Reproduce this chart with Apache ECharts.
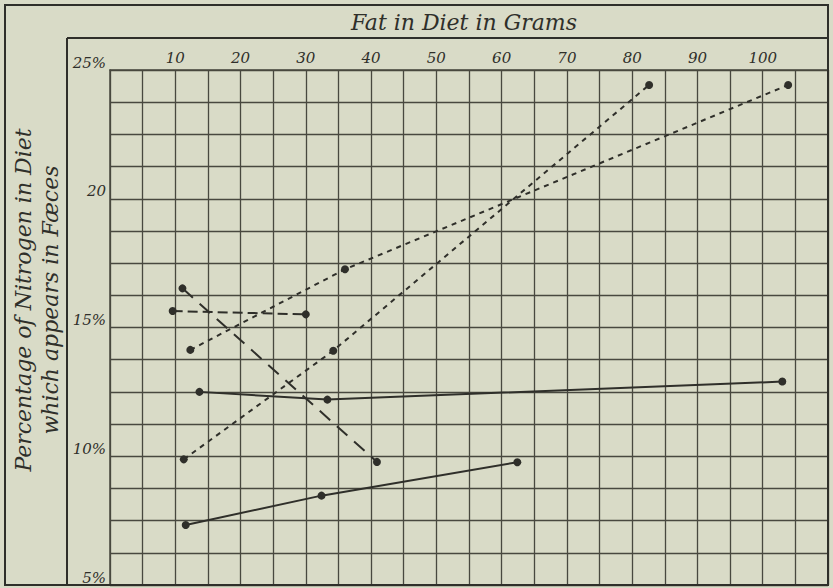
<!DOCTYPE html>
<html>
<head>
<meta charset="utf-8">
<script src="https://cdn.jsdelivr.net/npm/echarts@6/dist/echarts.min.js"></script>
<style>
html,body{margin:0;padding:0;background:#d9dbc7;}
#c{width:833px;height:588px;}
</style>
</head>
<body>
<div id="c"></div>
<script>
// ---- data ----
const xTickLabels = [10, 20, 30, 40, 50, 60, 70, 80, 90, 100];
const yTickValues = [5, 10, 15, 20, 25];
const yTickLabels = ['5%', '10%', '15%', '20', '25%'];

const solidA = [[13.7, 12.5], [33.3, 12.2], [103.0, 12.9]];
const solidB = [[11.6, 7.33], [32.4, 8.47], [62.4, 9.77]];
const longDashC = [[11.1, 16.52], [40.9, 9.78]];
const midDashD = [[9.6, 15.64], [30.0, 15.51]];
const shortDashE = [[12.3, 14.13], [36.0, 17.26], [103.9, 24.42]];
const shortDashF = [[11.3, 9.88], [34.2, 14.10], [82.6, 24.42]];

const titleText = 'Fat in Diet in Grams';
const yTitle1 = 'Percentage of Nitrogen in Diet';
const yTitle2 = 'which appears in Fæces';

// ---- styles ----
const ink = '#2f2f2a';
const gridInk = '#48483f';
const font = 'DejaVu Serif';

function mk(data, type) {
  return {
    type: 'line', data: data, symbol: 'circle', symbolSize: 8,
    itemStyle: {color: ink},
    lineStyle: {color: ink, width: 2, type: type},
    silent: true, animation: false, z: 5
  };
}

const chart = echarts.init(document.getElementById('c'), null, {renderer: 'svg'});
chart.setOption({
  backgroundColor: '#d9dbc7',
  animation: false,
  grid: {left: 110, top: 70, right: 5, bottom: 3},
  xAxis: {
    type: 'value', position: 'top', min: 0, max: 110, interval: 5,
    axisLine: {show: true, lineStyle: {color: gridInk, width: 1.5}},
    axisTick: {show: false},
    splitLine: {show: true, lineStyle: {color: gridInk, width: 1.3}},
    axisLabel: {
      margin: 5, fontFamily: font, fontStyle: 'italic', fontSize: 15, color: ink,
      showMinLabel: true, showMaxLabel: true,
      formatter: v => xTickLabels.indexOf(v) >= 0 ? String(v) : ''
    }
  },
  yAxis: {
    type: 'value', min: 5, max: 25, interval: 1.25,
    axisLine: {show: true, lineStyle: {color: gridInk, width: 1.5}},
    axisTick: {show: false},
    splitLine: {show: true, lineStyle: {color: gridInk, width: 1.3}},
    axisLabel: {
      margin: 4, fontFamily: font, fontStyle: 'italic', fontSize: 15, color: ink,
      verticalAlign: 'bottom', showMinLabel: true, showMaxLabel: true,
      formatter: v => { const i = yTickValues.indexOf(v); return i >= 0 ? yTickLabels[i] : ''; }
    }
  },
  series: [
    mk(solidA, 'solid'),
    mk(solidB, 'solid'),
    mk(longDashC, [14, 9]),
    mk(midDashD, [10, 5]),
    mk(shortDashE, [5, 5]),
    mk(shortDashF, [5, 5])
  ],
  graphic: [
    {type: 'rect', shape: {x: 5, y: 5, width: 823, height: 580},
     style: {fill: 'none', stroke: ink, lineWidth: 2}, z: 10, silent: true},
    {type: 'line', shape: {x1: 67, y1: 38, x2: 828, y2: 38},
     style: {stroke: ink, lineWidth: 2}, z: 10, silent: true},
    {type: 'line', shape: {x1: 67, y1: 38, x2: 67, y2: 585},
     style: {stroke: ink, lineWidth: 2}, z: 10, silent: true},
    {type: 'text', x: 464, y: 22, z: 10, silent: true,
     style: {text: titleText, font: 'italic 22px "DejaVu Serif"', fill: ink,
             textAlign: 'center', textVerticalAlign: 'middle'}},
    {type: 'text', x: 23, y: 300, rotation: Math.PI / 2, z: 10, silent: true,
     style: {text: yTitle1, font: 'italic 22px "DejaVu Serif"', fill: ink,
             textAlign: 'center', textVerticalAlign: 'middle'}},
    {type: 'text', x: 50, y: 300, rotation: Math.PI / 2, z: 10, silent: true,
     style: {text: yTitle2, font: 'italic 22px "DejaVu Serif"', fill: ink,
             textAlign: 'center', textVerticalAlign: 'middle'}}
  ]
});
</script>
</body>
</html>
